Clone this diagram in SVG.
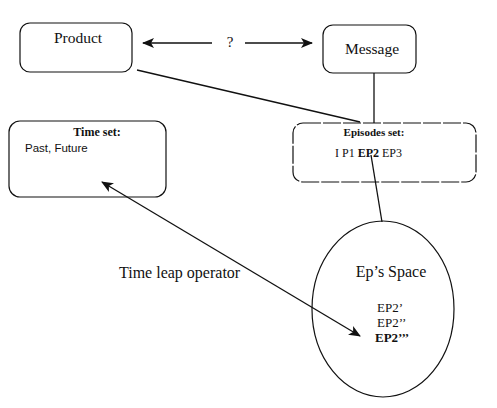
<svg xmlns="http://www.w3.org/2000/svg" width="497" height="408" viewBox="0 0 497 408">
<style>
.box{fill:none;stroke:#111;stroke-width:1.2}
.ln{fill:none;stroke:#111;stroke-width:1.3}
.t{font-family:"Liberation Serif","Times New Roman",serif;fill:#111}
.s{font-family:"Liberation Sans",Arial,sans-serif;fill:#111}
.b{font-weight:bold}
</style>
<defs>
<marker id="ah" viewBox="0 0 12 10" refX="11" refY="5" markerWidth="12" markerHeight="10" markerUnits="userSpaceOnUse" orient="auto-start-reverse">
<path d="M0,0 L12,5 L0,10 L3,5 Z" fill="#111"/>
</marker>
</defs>
<rect width="497" height="408" fill="#fff"/>
<g id="product">
<rect class="box" x="20" y="23" width="112" height="49" rx="10"/>
<text class="t" x="78" y="43" font-size="15.5" text-anchor="middle">Product</text>
</g>
<g id="message">
<rect class="box" x="323" y="25" width="93" height="48" rx="10"/>
<text class="t" x="372" y="54" font-size="15.5" text-anchor="middle">Message</text>
</g>
<g id="time-set">
<rect class="box" x="9" y="121" width="157" height="76" rx="11"/>
<text class="t b" x="97" y="136" font-size="12" text-anchor="middle">Time set:</text>
<text class="s" x="25" y="152" font-size="11.5">Past, Future</text>
</g>
<g id="episodes-set">
<rect class="box" x="293" y="123" width="183" height="59" rx="10" stroke-dasharray="18 2"/>
<text class="t b" x="374" y="136" font-size="11" text-anchor="middle">Episodes set:</text>
<text class="t" x="335" y="157" font-size="12">I P1 <tspan class="b">EP2</tspan> EP3</text>
</g>
<g id="eps-space">
<ellipse class="box" cx="383" cy="309" rx="71" ry="88"/>
<text class="t" x="391" y="277" font-size="16" text-anchor="middle">Ep’s Space</text>
<text class="t" x="377" y="312" font-size="13">EP2’</text>
<text class="t" x="377" y="327" font-size="13">EP2’’</text>
<text class="t b" x="375" y="342" font-size="13">EP2’’’</text>
</g>
<g id="connectors">
<line class="ln" x1="212" y1="43" x2="143" y2="43" marker-end="url(#ah)"/>
<text class="t" x="230" y="47" font-size="15" text-anchor="middle">?</text>
<line class="ln" x1="245" y1="43" x2="312" y2="43" marker-end="url(#ah)"/>
<line class="ln" x1="137" y1="70" x2="360" y2="122"/>
<line class="ln" x1="374" y1="73" x2="374" y2="123"/>
<line class="ln" x1="371" y1="155" x2="382" y2="222"/>
<line class="ln" x1="102" y1="182" x2="360" y2="336" marker-start="url(#ah)" marker-end="url(#ah)"/>
<text class="t" x="119" y="278" font-size="16">Time leap operator</text>
</g>
</svg>
